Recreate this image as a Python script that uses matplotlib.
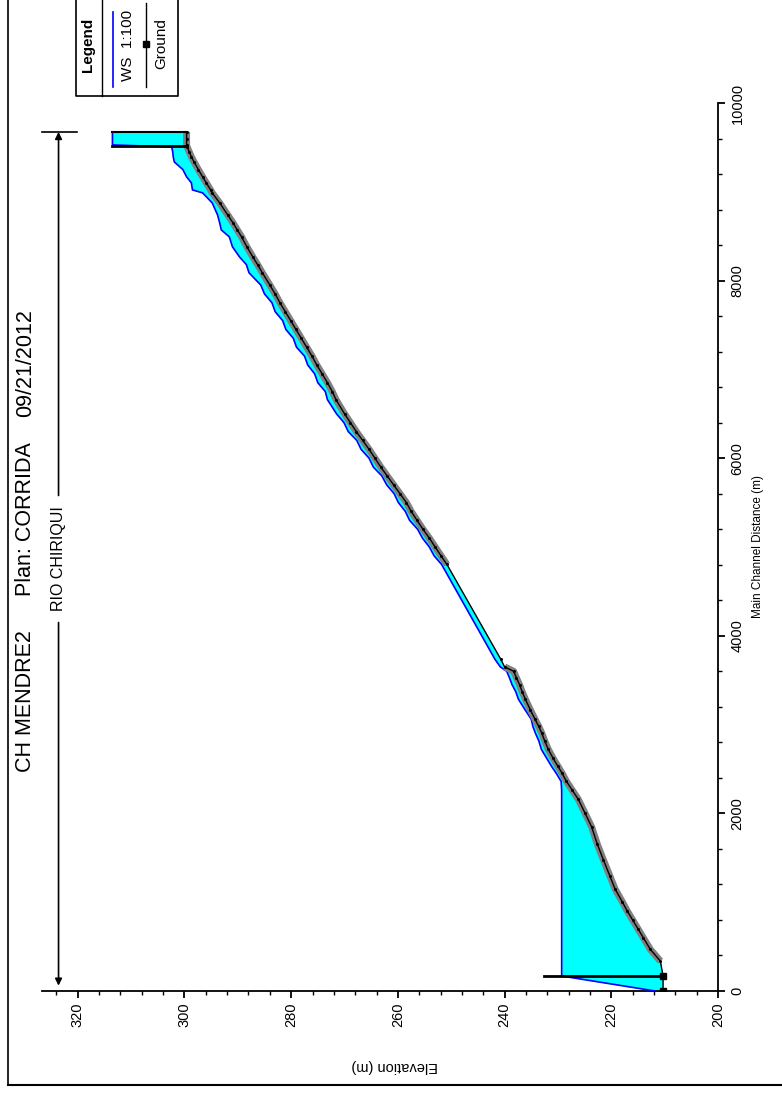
import matplotlib
matplotlib.use("Agg")
import matplotlib.pyplot as plt
from matplotlib.ticker import MultipleLocator
import numpy as np

plt.rcParams['font.family'] = ['Liberation Sans', 'DejaVu Sans']

# ---------------- data ----------------
dist = [0, 169, 337, 470, 600, 700, 800, 900, 1000, 1150, 1300, 1480, 1650, 1850,
        2000, 2160, 2260, 2360, 2450, 2530, 2620, 2720, 2820, 2900, 2980, 3060,
        3170, 3285, 3370, 3450, 3530, 3600, 3650, 3735, 4803, 4900, 5000, 5100,
        5200, 5300, 5400, 5500, 5600, 5700, 5800, 5900, 6000, 6100, 6200, 6300,
        6400, 6500, 6659, 6750, 6850, 6950, 7050, 7150, 7250, 7350, 7450, 7550,
        7650, 7750, 7850, 7950, 8088, 8180, 8268, 8380, 8493, 8571, 8650, 8740,
        8875, 8988, 9021, 9100, 9168, 9250, 9336, 9393, 9450, 9505, 9528, 9600,
        9674]
ground = [210.3, 210.3, 210.8, 212.7, 214.0, 215.0, 216.0, 217.0, 217.9, 219.3,
          220.3, 221.5, 222.6, 223.7, 224.9, 226.2, 227.3, 228.4, 229.2, 230.0,
          230.9, 231.8, 232.5, 233.0, 233.6, 234.3, 235.2, 236.1, 236.7, 237.2,
          237.8, 238.3, 240.0, 240.7, 250.8, 251.9, 253.0, 254.1, 255.3, 256.4,
          257.5, 258.4, 259.6, 260.8, 262.0, 263.2, 264.3, 265.4, 266.6, 267.8,
          268.9, 270.0, 271.6, 272.3, 273.2, 274.2, 275.2, 276.1, 277.1, 278.1,
          279.1, 280.1, 281.1, 282.1, 283.0, 284.0, 285.4, 286.3, 287.2, 288.3,
          289.3, 290.1, 290.9, 291.9, 293.4, 294.8, 295.1, 295.9, 296.6, 297.4,
          298.2, 298.7, 299.1, 299.5, 299.6, 299.6, 299.6]
ws_100 = [211.8, 229.3, 229.3, 229.3, 229.3, 229.3, 229.3, 229.3, 229.3, 229.3,
          229.3, 229.3, 229.3, 229.3, 229.3, 229.3, 229.3, 229.4, 230.3, 231.2,
          232.1, 233.1, 233.6, 234.2, 234.7, 235.0, 236.2, 237.4, 237.9, 238.6,
          239.1, 239.6, 240.8, 241.8, 251.8, 253.2, 254.1, 255.4, 256.3, 257.8,
          258.6, 259.9, 260.7, 262.1, 263.0, 264.6, 265.4, 266.9, 267.7, 269.3,
          270.1, 271.5, 273.2, 273.6, 275.0, 275.6, 276.9, 277.5, 279.0, 279.6,
          281.0, 281.6, 283.0, 283.6, 285.0, 285.7, 287.9, 288.4, 289.7, 291.0,
          291.6, 293.1, 293.4, 293.8, 294.8, 296.6, 298.5, 298.7, 299.6, 300.3,
          301.9, 302.1, 302.2, 302.4, 313.5, 313.5, 313.5]
# inline structures (distance, bottom elev, top elev)
struct_dist = [169, 9520]
struct_bottom = [210.3, 299.6]
struct_top = [232.7, 313.5]
# reach extent
reach_start, reach_end = 0, 9674

elev_ticks = [200, 220, 240, 260, 280, 300, 320]
dist_ticks = [0, 2000, 4000, 6000, 8000, 10000]

W, H = 782, 1097
fig = plt.figure(figsize=(W / 100, H / 100), dpi=100)

# ---------------- main axes (rotated chart) ----------------
ax = fig.add_axes([42 / W, 1 - 991 / H, 676 / W, 888 / H])
ax.set_xlim(326.7, 200)
ax.set_ylim(0, 10000)
for s in ['top', 'left']:
    ax.spines[s].set_visible(False)
for s in ['bottom', 'right']:
    ax.spines[s].set_linewidth(1.3)
ax.yaxis.tick_right()
ax.xaxis.set_minor_locator(MultipleLocator(4))
ax.yaxis.set_minor_locator(MultipleLocator(400))
ax.tick_params(which='major', direction='out', length=5, width=1.3, labelsize=10.5)
ax.tick_params(which='minor', direction='out', length=3, width=1.0)
ax.set_xticks(elev_ticks)
ax.set_yticks(dist_ticks)
ax.set_xticklabels([str(v) for v in elev_ticks], rotation=90, va='top', ha='center')
ax.set_yticklabels([str(v) for v in dist_ticks], rotation=90, va='center', ha='left')
ax.tick_params(axis='x', pad=3)
ax.tick_params(axis='y', pad=4)

d = np.array(dist)
g = np.array(ground)
w = np.array(ws_100)

ax.fill_betweenx(d, g, w, color='#00FFFF', lw=0, zorder=2)
ax.plot(w, d, color='#0000FF', lw=1.2, zorder=3)

grey1 = (d >= 337) & (d <= 3650)
grey2 = (d >= 4803)
ax.plot(g[grey1], d[grey1], color='#808080', lw=5, solid_capstyle='butt', zorder=4)
ax.plot(g[grey2], d[grey2], color='#808080', lw=5, solid_capstyle='butt', zorder=4)
ax.plot(g, d, color='black', lw=1.0, zorder=5)
ax.plot(g, d, ls='none', marker='o', ms=1.2, color='black', zorder=6)

for sd, sb, st in zip(struct_dist, struct_bottom, struct_top):
    ax.plot([sb, st], [sd, sd], color='black', lw=2, zorder=6)
ax.plot([w[-1], g[-1]], [reach_end, reach_end], color='black', lw=1.5, zorder=6)
ax.plot([g[0], g[1]], [dist[0], dist[1]], ls='none', marker='s', ms=5, color='black', zorder=7)

# reach arrow "RIO CHIRIQUI"
xa = 323.6
ax.annotate('', xy=(xa, reach_end), xytext=(xa, 5580), arrowprops=dict(arrowstyle='-|>', color='black', lw=1.2, mutation_scale=10, shrinkA=0, shrinkB=0), annotation_clip=False)
ax.annotate('', xy=(xa, reach_start + 60), xytext=(xa, 4150), arrowprops=dict(arrowstyle='-|>', color='black', lw=1.2, mutation_scale=10, shrinkA=0, shrinkB=0), annotation_clip=False)
ax.plot([326.7, 320.2], [reach_end, reach_end], color='black', lw=1.2, clip_on=False)
ax.text(xa, 4870, 'RIO CHIRIQUI', rotation=90, ha='center', va='center', fontsize=11.5)

# ---------------- overlay in pixel coordinates ----------------
ov = fig.add_axes([0, 0, 1, 1], facecolor='none')
ov.set_xlim(0, W)
ov.set_ylim(H, 0)
ov.axis('off')

# page frame
ov.plot([8, 8], [0, 1085], color='black', lw=1.2)
ov.plot([8, W], [1085, 1085], color='black', lw=1.5)

# titles
ov.text(26, 701, 'CH MENDRE2', rotation=90, ha='center', va='center', fontsize=15.5)
ov.text(26, 519, 'Plan: CORRIDA', rotation=90, ha='center', va='center', fontsize=15.5)
ov.text(26, 363, '09/21/2012', rotation=90, ha='center', va='center', fontsize=15.5)

# axis labels
ov.text(395, 1066, 'Elevation (m)', rotation=180, ha='center', va='center', fontsize=10.5)
ov.text(758, 547, 'Main Channel Distance (m)', rotation=90, ha='center', va='center', fontsize=8.5)

# legend box
ov.plot([76, 76, 178, 178], [-5, 96, 96, -5], color='black', lw=1.2)
ov.plot([102, 102], [-5, 96], color='black', lw=1.0)
ov.text(88, 45, 'Legend', rotation=90, ha='center', va='center', fontsize=11, fontweight='bold')
ov.plot([113, 113], [12, 87], color='#0000FF', lw=1.2)
ov.text(128, 45, 'WS  1:100', rotation=90, ha='center', va='center', fontsize=11)
ov.plot([146, 146], [3, 87], color='black', lw=1.0)
ov.plot([146], [44], marker='s', ms=5, color='black')
ov.text(161, 44, 'Ground', rotation=90, ha='center', va='center', fontsize=11)

fig.savefig('out.png', dpi=100)
